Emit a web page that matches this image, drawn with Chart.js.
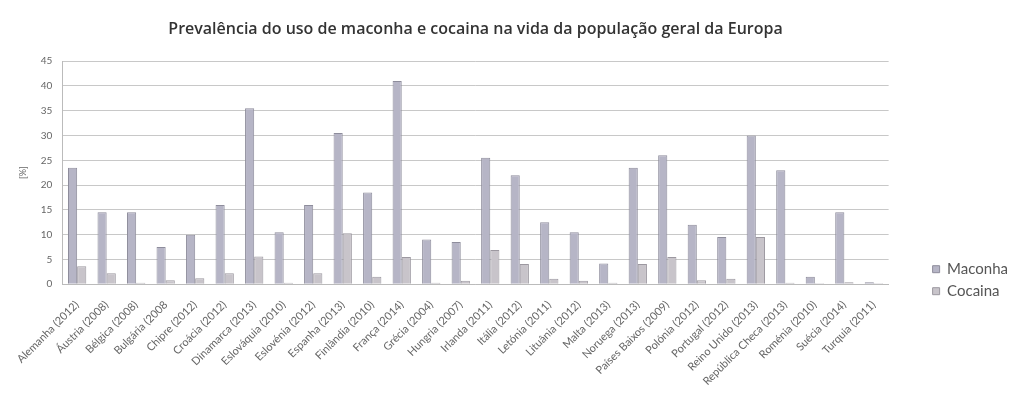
<!DOCTYPE html>
<html>
<head>
<meta charset="utf-8">
<script src="https://cdn.jsdelivr.net/npm/chart.js@4/dist/chart.umd.min.js"></script>
<style>
  html, body { margin: 0; padding: 0; background: #fff; }
  #wrap { width: 1018px; height: 396px; }
</style>
</head>
<body>
<div id="wrap"><canvas id="drugChart" width="1018" height="396"></canvas></div>
<script>
// países (ano do levantamento)
const paises = [
    'Alemanha (2012)', 'Áustria (2008)', 'Bélgica (2008)', 'Bulgária (2008',
    'Chipre (2012)', 'Croácia (2012)', 'Dinamarca (2013)', 'Eslováquia (2010)',
    'Eslovénia (2012)', 'Espanha (2013)', 'Finlândia (2010)', 'França (2014)',
    'Grécia (2004)', 'Hungria (2007)', 'Irlanda (2011)', 'Itália (2012)',
    'Letónia (2011)', 'Lituânia (2012)', 'Malta (2013)', 'Noruega (2013)',
    'Países Baixos (2009)', 'Polónia (2012)', 'Portugal (2012)', 'Reino Unido (2013)',
    'República Checa (2013)', 'Roménia (2010)', 'Suécia (2014)', 'Turquia (2011)'
];

// valores em %
const maconha = [
    23.5, 14.5, 14.5, 7.5, 10, 16, 35.5, 10.5, 16, 30.5, 18.5, 41, 9, 8.5,
    25.5, 22, 12.5, 10.5, 4.2, 23.5, 26, 12, 9.5, 30, 23, 1.5, 14.5, 0.4
];
const cocaina = [
    3.6, 2.2, 0.3, 0.8, 1.2, 2.2, 5.6, 0.3, 2.2, 10.3, 1.5, 5.5, 0.3, 0.7,
    6.9, 4.1, 1.1, 0.7, 0.3, 4.1, 5.5, 0.8, 1.1, 9.5, 0.3, 0.2, 0.4, 0.2
];

const yTicks = [0, 5, 10, 15, 20, 25, 30, 35, 40, 45];

document.addEventListener('DOMContentLoaded', function () {

    const data = {
        labels: paises,
        datasets: [{
            label: 'Maconha',
            data: maconha,
            backgroundColor: '#b6b5c6',
            borderColor: '#8e8d9c',
            borderWidth: 1
        }, {
            label: 'Cocaina',
            data: cocaina,
            backgroundColor: '#c8c4ca',
            borderColor: '#9c98a0',
            borderWidth: 1
        }]
    };

    const config = {
        type: 'bar',
        data: data,
        options: {
            responsive: false,
            animation: false,
            layout: { padding: { left: 14, right: 0, top: 4, bottom: 2 } },
            datasets: { bar: { categoryPercentage: 0.62, barPercentage: 1.0 } },
            plugins: {
                title: {
                    display: true,
                    fullSize: false,
                    text: 'Prevalência do uso de maconha e cocaina na vida da população geral da Europa',
                    color: '#333',
                    font: { family: 'Open Sans', size: 16, weight: '600' },
                    padding: { top: 16, bottom: 22 }
                },
                legend: {
                    position: 'right',
                    align: 'center',
                    title: { display: true, text: '', padding: { top: 148 } },
                    labels: {
                        color: '#555',
                        font: { family: 'Lato', size: 15 },
                        boxWidth: 7,
                        boxHeight: 7,
                        padding: 7
                    }
                },
                tooltip: { enabled: false }
            },
            scales: {
                x: {
                    grid: { display: false },
                    border: { color: '#bbb' },
                    ticks: {
                        color: '#666',
                        font: { family: 'Lato', size: 11 },
                        padding: 6,
                        minRotation: 45,
                        maxRotation: 45,
                        autoSkip: false
                    }
                },
                y: {
                    min: 0,
                    max: 45,
                    afterBuildTicks: function (axis) {
                        axis.ticks = yTicks.map(v => ({ value: v }));
                    },
                    grid: { color: '#c8c8c8', drawTicks: false },
                    border: { color: '#bbb' },
                    ticks: {
                        color: '#666',
                        font: { family: 'Lato', size: 10 },
                        padding: 10
                    },
                    title: {
                        display: true,
                        text: '[%]',
                        color: '#666',
                        font: { family: 'Lato', size: 9 },
                        padding: { bottom: 2 }
                    }
                },
                // espaço vazio entre a área do gráfico e a legenda
                gap: {
                    position: 'right',
                    display: true,
                    grid: { display: false },
                    border: { display: false },
                    ticks: { display: false },
                    afterFit: function (axis) { axis.width = 37; }
                }
            }
        }
    };

    const ctx = document.getElementById('drugChart');
    if (ctx) new Chart(ctx, config);
});
</script>
</body>
</html>
